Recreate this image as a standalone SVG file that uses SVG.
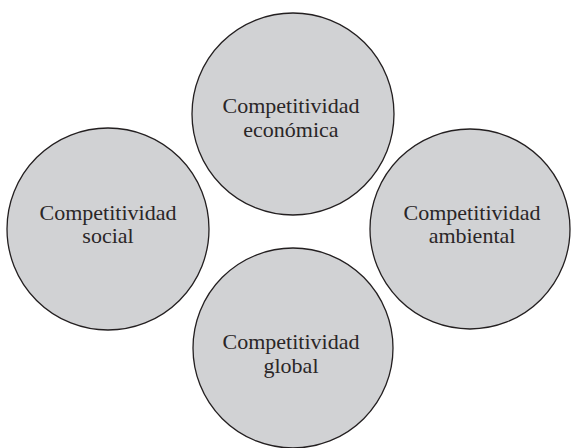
<svg xmlns="http://www.w3.org/2000/svg" width="571" height="448" viewBox="0 0 571 448">
<style>
.c{fill:#d1d2d4;stroke:#231f20;stroke-width:1.3}
.t{font-family:"Liberation Serif","Times New Roman",serif;font-size:22px;fill:#2a2627;text-anchor:middle}
</style>
<rect width="571" height="448" fill="#ffffff"/>
<g id="economica">
<circle class="c" cx="293" cy="114" r="101"/>
<text class="t" x="291" y="113">Competitividad</text>
<text class="t" x="291" y="137">económica</text>
</g>
<g id="social">
<circle class="c" cx="108" cy="229" r="101"/>
<text class="t" x="108" y="220">Competitividad</text>
<text class="t" x="108" y="243">social</text>
</g>
<g id="ambiental">
<circle class="c" cx="470" cy="229" r="100"/>
<text class="t" x="472" y="220">Competitividad</text>
<text class="t" x="472" y="243">ambiental</text>
</g>
<g id="global">
<circle class="c" cx="293" cy="348" r="100"/>
<text class="t" x="291" y="349">Competitividad</text>
<text class="t" x="291" y="373">global</text>
</g>
<g id="connectors"></g>
</svg>
